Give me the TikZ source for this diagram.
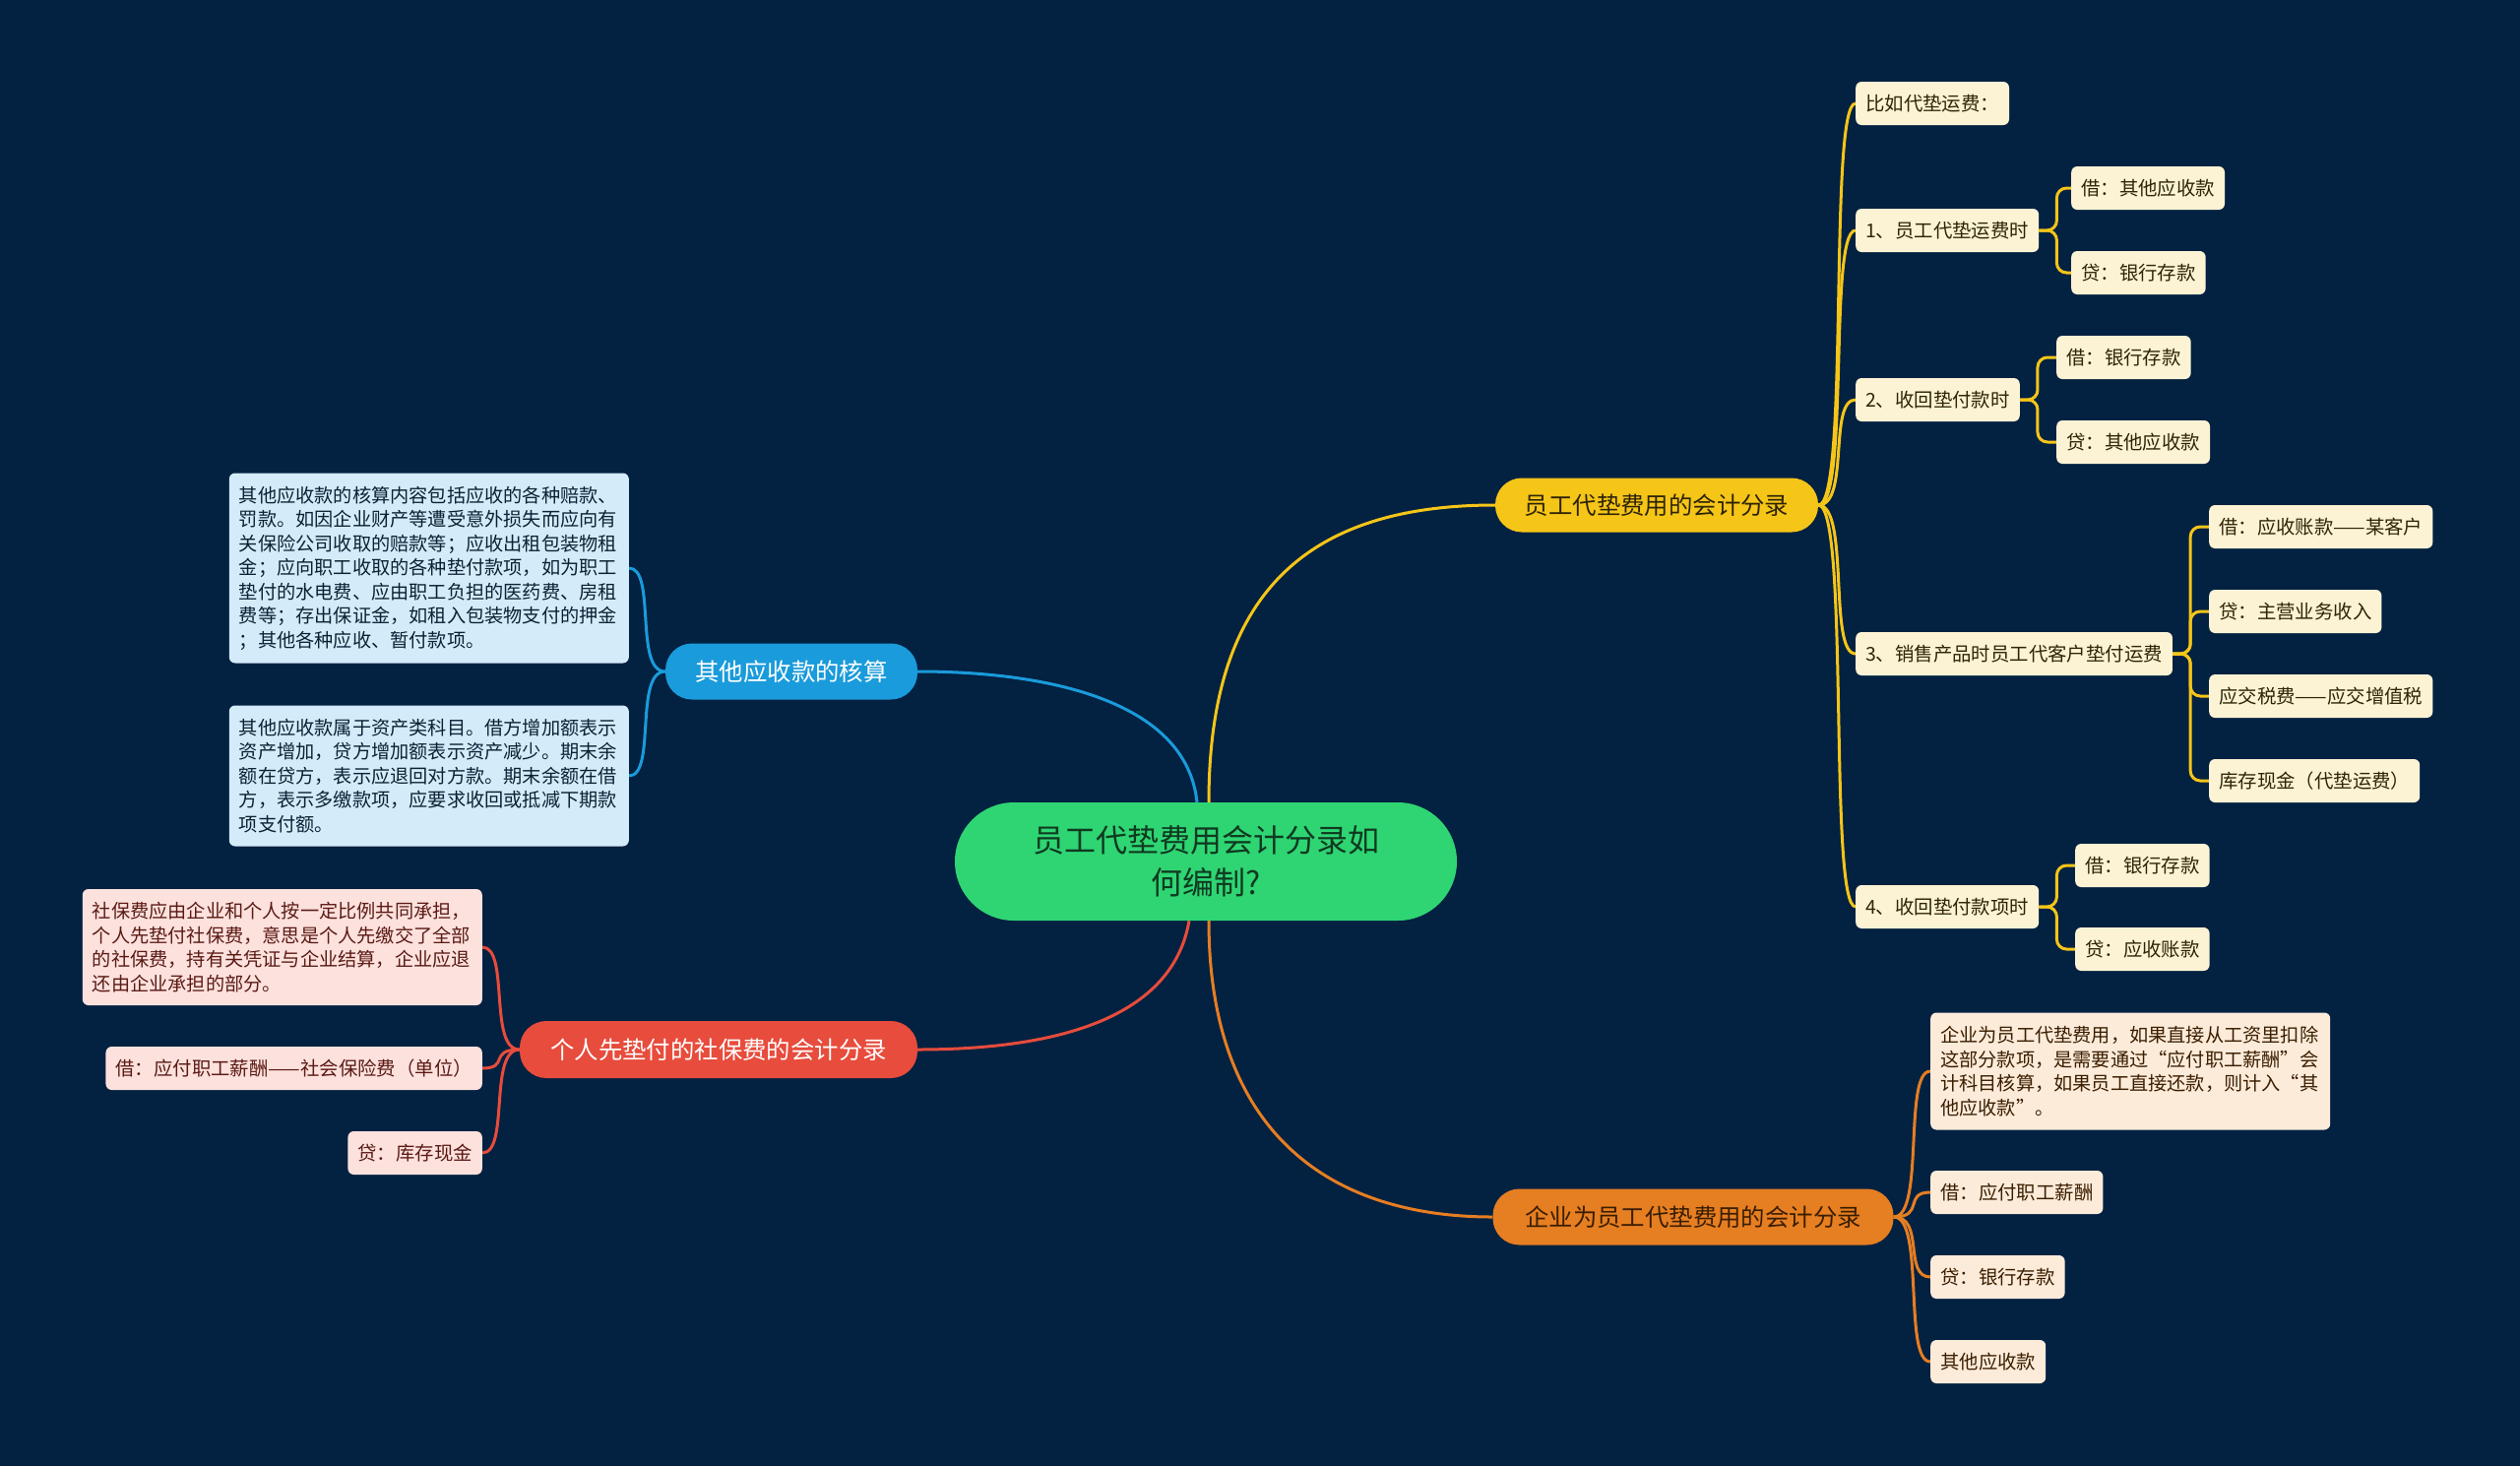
\documentclass[tikz,border=0pt]{standalone}
\usepackage{fontspec}
\setmainfont{Noto Sans CJK SC}
\usetikzlibrary{backgrounds,calc}
\definecolor{bg}{HTML}{032141}
\definecolor{cyel}{HTML}{F5C518}
\definecolor{lyel}{HTML}{FCF3D5}
\definecolor{tyel}{HTML}{2E2406}
\definecolor{cblu}{HTML}{1A9BDB}
\definecolor{lblu}{HTML}{D4ECF9}
\definecolor{tblu}{HTML}{0B2236}
\definecolor{cred}{HTML}{E74C3C}
\definecolor{lred}{HTML}{FCE1DD}
\definecolor{tred}{HTML}{5B1A14}
\definecolor{cora}{HTML}{E67E22}
\definecolor{lora}{HTML}{FDEBDA}
\definecolor{tora}{HTML}{3A1E00}
\definecolor{cgrn}{HTML}{2FD573}
\definecolor{tgrn}{HTML}{0F3A20}
\begin{document}
\begin{tikzpicture}[x=1pt,y=-1pt,
  leaf/.style={rounded corners=6pt, inner xsep=10pt, inner ysep=0pt, minimum height=44pt, font=\fontsize{19.4}{24.5}\selectfont},
  note/.style={rounded corners=6pt, inner xsep=10pt, inner ysep=8pt, text width=386pt, align=left, font=\fontsize{19.2}{24.5}\selectfont},
  mainnode/.style={rounded corners=27pt, inner sep=0pt, minimum height=56pt, font=\fontsize{24.4}{28}\selectfont},
  leafY/.style={leaf, fill=lyel, text=tyel},
  leafO/.style={leaf, fill=lora, text=tora},
  leafR/.style={leaf, fill=lred, text=tred},
  noteB/.style={note, fill=lblu, text=tblu},
  noteR/.style={note, fill=lred, text=tred},
  noteO/.style={note, fill=lora, text=tora},
  lY/.style={draw=cyel, line width=3pt},
  lB/.style={draw=cblu, line width=3pt},
  lR/.style={draw=cred, line width=3pt},
  lO/.style={draw=cora, line width=3pt},
  elbow/.style={rounded corners=10pt}
]
\useasboundingbox (0,0) rectangle (2560,1489);

% center
\node[fill=cgrn, text=tgrn, rounded corners=60pt, minimum width=510pt, minimum height=120pt, inner sep=0pt, align=center, font=\fontsize{32}{43}\selectfont] (C) at (1225,875) {员工代垫费用会计分录如\\何编制?};

% yellow branch
\node[mainnode, fill=cyel, text=tyel, minimum width=328pt, minimum height=55pt] (Y) at (1683,513) {员工代垫费用的会计分录};
\node[leafY, anchor=west] (y0) at (1885,105) {比如代垫运费：};
\node[leafY, anchor=west] (y1) at (1885,234) {1、员工代垫运费时};
\node[leafY, anchor=west] (y1a) at (2104,191) {借：其他应收款};
\node[leafY, anchor=west] (y1b) at (2104,277) {贷：银行存款};
\node[leafY, anchor=west] (y2) at (1885,406) {2、收回垫付款时};
\node[leafY, anchor=west] (y2a) at (2089,363) {借：银行存款};
\node[leafY, anchor=west] (y2b) at (2089,449) {贷：其他应收款};
\node[leafY, anchor=west] (y3) at (1885,664) {3、销售产品时员工代客户垫付运费};
\node[leafY, anchor=west] (y3a) at (2244,535) {借：应收账款——某客户};
\node[leafY, anchor=west] (y3b) at (2244,621) {贷：主营业务收入};
\node[leafY, anchor=west] (y3c) at (2244,707) {应交税费——应交增值税};
\node[leafY, anchor=west] (y3d) at (2244,793) {库存现金（代垫运费）};
\node[leafY, anchor=west] (y4) at (1885,921) {4、收回垫付款项时};
\node[leafY, anchor=west] (y4a) at (2108,879) {借：银行存款};
\node[leafY, anchor=west] (y4b) at (2108,964) {贷：应收账款};

% orange branch
\node[mainnode, fill=cora, text=tora, minimum width=407pt, minimum height=57pt] (O) at (1720,1236) {企业为员工代垫费用的会计分录};
\node[noteO, anchor=west, minimum height=119pt] (o1) at (1961,1088) {企业为员工代垫费用，如果直接从工资里扣除\\这部分款项，是需要通过“应付职工薪酬”会\\计科目核算，如果员工直接还款，则计入“其\\他应收款”。};
\node[leafO, anchor=west] (o2) at (1961,1211) {借：应付职工薪酬};
\node[leafO, anchor=west] (o3) at (1961,1297) {贷：银行存款};
\node[leafO, anchor=west] (o4) at (1961,1383) {其他应收款};

% blue branch
\node[mainnode, fill=cblu, text=white, minimum width=256pt, minimum height=57pt] (B) at (804,682) {其他应收款的核算};
\node[noteB, anchor=east, minimum height=193pt] (b1) at (639,577) {其他应收款的核算内容包括应收的各种赔款、\\罚款。如因企业财产等遭受意外损失而应向有\\关保险公司收取的赔款等；应收出租包装物租\\金；应向职工收取的各种垫付款项，如为职工\\垫付的水电费、应由职工负担的医药费、房租\\费等；存出保证金，如租入包装物支付的押金\\；其他各种应收、暂付款项。};
\node[noteB, anchor=east, minimum height=143pt] (b2) at (639,788) {其他应收款属于资产类科目。借方增加额表示\\资产增加，贷方增加额表示资产减少。期末余\\额在贷方，表示应退回对方款。期末余额在借\\方，表示多缴款项，应要求收回或抵减下期款\\项支付额。};

% red branch
\node[mainnode, fill=cred, text=white, minimum width=404pt, minimum height=58pt] (R) at (730,1066) {个人先垫付的社保费的会计分录};
\node[noteR, anchor=east, minimum height=118pt] (r1) at (490,962) {社保费应由企业和个人按一定比例共同承担，\\个人先垫付社保费，意思是个人先缴交了全部\\的社保费，持有关凭证与企业结算，企业应退\\还由企业承担的部分。};
\node[leafR, anchor=east] (r2) at (490,1085) {借：应付职工薪酬——社会保险费（单位）};
\node[leafR, anchor=east] (r3) at (490,1171) {贷：库存现金};

\begin{scope}[on background layer]
\fill[bg] (0,0) rectangle (2560,1489);
% main connectors
\draw[lY] ([xshift=3pt]C.north) .. controls (1228,600) and (1330,513) .. (Y.west);
\draw[lB] ([xshift=-9pt]C.north) .. controls (1205,710) and (1060,682) .. (B.east);
\draw[lR] ([xshift=-17pt]C.south) .. controls (1190,1040) and (1060,1066) .. (R.east);
\draw[lO] ([xshift=3pt]C.south) .. controls (1228,1140) and (1340,1236) .. (O.west);
% yellow children
\foreach \k in {y0,y1,y2,y3,y4}
  \draw[lY] (Y.east) .. controls +(32,0) and +(-28,0) .. (\k.west);
\foreach \p/\k in {y1/y1a,y1/y1b,y2/y2a,y2/y2b,y3/y3a,y3/y3b,y3/y3c,y3/y3d,y4/y4a,y4/y4b}
  \draw[lY, elbow] (\p.east) -- ++(18,0) |- (\k.west);
% orange children
\foreach \k in {o1,o2,o3,o4}
  \draw[lO] (O.east) .. controls +(32,0) and +(-28,0) .. (\k.west);
% blue children
\foreach \k in {b1,b2}
  \draw[lB] (B.west) .. controls +(-32,0) and +(28,0) .. (\k.east);
% red children
\foreach \k in {r1,r2,r3}
  \draw[lR] (R.west) .. controls +(-32,0) and +(28,0) .. (\k.east);
\end{scope}
\end{tikzpicture}
\end{document}
